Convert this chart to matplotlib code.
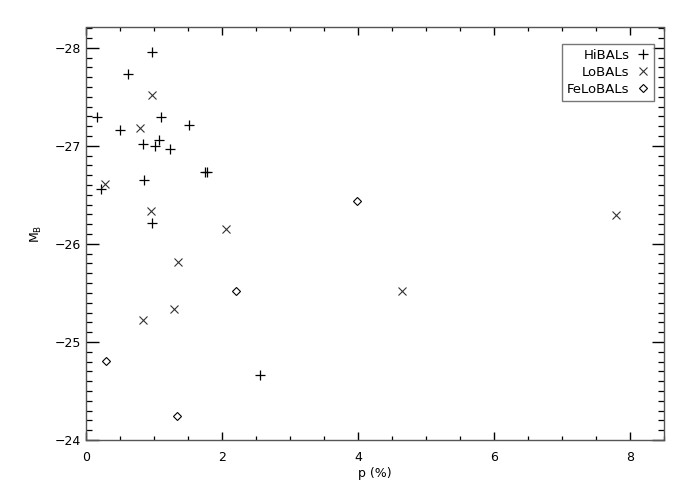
import matplotlib
matplotlib.use("Agg")
import matplotlib.pyplot as plt
from matplotlib.ticker import MultipleLocator

hibal_p = [0.975, 0.62, 0.16, 1.10, 0.50, 1.51, 0.84, 1.01, 1.08, 1.235, 1.75, 1.78, 0.86, 0.215, 0.975, 2.56]
hibal_M = [-27.96, -27.73, -27.29, -27.29, -27.16, -27.21, -27.02, -27.00, -27.06, -26.97, -26.73, -26.73, -26.65, -26.56, -26.21, -24.66]

lobal_p = [0.975, 0.80, 0.285, 0.96, 2.06, 1.36, 0.84, 1.29, 4.64, 7.80]
lobal_M = [-27.52, -27.18, -26.61, -26.34, -26.15, -25.82, -25.22, -25.34, -25.52, -26.29]

felobal_p = [3.99, 2.20, 0.29, 1.34]
felobal_M = [-26.44, -25.52, -24.81, -24.24]

fig = plt.figure(figsize=(6.92, 4.95), dpi=100)
ax = fig.add_axes([86/692, 1 - 440/495, (664-86)/692, (440-27.5)/495])

ax.plot(hibal_p, hibal_M, ls='none', marker='+', ms=7, mew=0.9, color='black', label='HiBALs')
ax.plot(lobal_p, lobal_M, ls='none', marker='x', ms=6, mew=0.8, color='#333333', label='LoBALs')
ax.plot(felobal_p, felobal_M, ls='none', marker='D', ms=4, mew=0.8, mfc='none', mec='black', label='FeLoBALs')

ax.set_xlim(0, 8.5)
ax.set_ylim(-24, -28.206)
ax.xaxis.set_major_locator(MultipleLocator(2))
ax.xaxis.set_minor_locator(MultipleLocator(0.5))
ax.yaxis.set_major_locator(MultipleLocator(1))
ax.yaxis.set_minor_locator(MultipleLocator(0.1))
ax.tick_params(which='both', direction='in', top=True, right=True, labelsize=9, color='black')
ax.tick_params(axis='y', which='major', length=9, width=1)
ax.tick_params(axis='y', which='minor', length=4.5, width=0.9)
ax.tick_params(axis='x', which='major', length=6, width=1, pad=8)
ax.tick_params(axis='x', which='minor', length=3, width=0.9)
for s in ax.spines.values():
    s.set_color('#555555')
    s.set_linewidth(1)

ax.set_xlabel('p (%)', fontsize=9, labelpad=2)
ax.set_ylabel(r'M$_\mathrm{B}$', fontsize=9, labelpad=8)

leg = ax.legend(loc='upper right', bbox_to_anchor=(0.9827, 0.96), markerfirst=False, fontsize=9.5,
                frameon=True, fancybox=False, edgecolor='#555555', borderpad=0.35,
                handlelength=1.0, handletextpad=0.5, labelspacing=0.32, borderaxespad=0.0,
                numpoints=1)
leg.get_frame().set_linewidth(1)
for t in leg.get_texts():
    t.set_ha('right')

fig.savefig('out.png', dpi=100)
